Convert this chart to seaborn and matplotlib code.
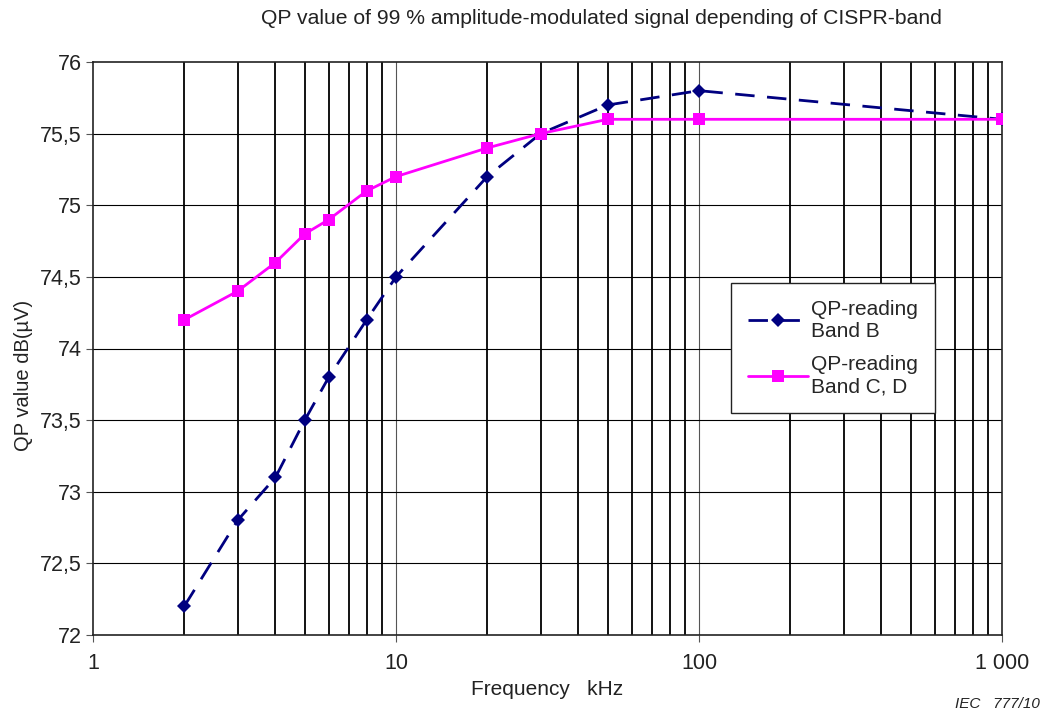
import matplotlib
matplotlib.use("Agg")
import matplotlib.pyplot as plt
import seaborn as sns
import pandas as pd
import numpy as np
from matplotlib.ticker import FixedLocator, FixedFormatter, NullFormatter

freq = [2, 3, 4, 5, 6, 8, 10, 20, 30, 50, 100, 1000]
band_b = [72.2, 72.8, 73.1, 73.5, 73.8, 74.2, 74.5, 75.2, 75.5, 75.7, 75.8, 75.6]
band_cd = [74.2, 74.4, 74.6, 74.8, 74.9, 75.1, 75.2, 75.4, 75.5, 75.6, 75.6, 75.6]
y_ticks = [72, 72.5, 73, 73.5, 74, 74.5, 75, 75.5, 76]
y_labels = ["72", "72,5", "73", "73,5", "74", "74,5", "75", "75,5", "76"]
x_ticks = [1, 10, 100, 1000]
x_labels = ["1", "10", "100", "1 000"]

sns.set_style("white")
plt.rcParams['font.family'] = ['Liberation Sans', 'DejaVu Sans']

df = pd.DataFrame({"freq": freq, "b": band_b, "cd": band_cd})

fig = plt.figure(figsize=(10.56, 7.13), dpi=100)
ax = fig.add_axes([93/1056, 1 - 635/713, (1002-93)/1056, (635-62)/713])

# grid lines
minor = [m * d for d in [1, 10, 100] for m in range(2, 10)]
for xv in minor:
    ax.axvline(xv, color="black", lw=1.3, zorder=1)
for xv in [10, 100]:
    ax.axvline(xv, color="#555555", lw=0.8, zorder=1)
for yv in y_ticks[1:-1]:
    ax.axhline(yv, color="black", lw=0.8, zorder=1)

sns.lineplot(data=df, x="freq", y="b", ax=ax, color="#000080", lw=2,
             marker="D", markersize=7, markeredgewidth=0, linestyle=(0, (7, 4.5)),
             label="QP-reading\nBand B", zorder=3)
sns.lineplot(data=df, x="freq", y="cd", ax=ax, color="#FF00FF", lw=2,
             marker="s", markersize=9, markeredgewidth=0,
             label="QP-reading\nBand C, D", zorder=4)

ax.set_xscale("log")
ax.set_xlim(1, 1000)
ax.set_ylim(72, 76)
ax.xaxis.set_major_locator(FixedLocator(x_ticks))
ax.xaxis.set_major_formatter(FixedFormatter(x_labels))
ax.xaxis.set_minor_formatter(NullFormatter())
ax.yaxis.set_major_locator(FixedLocator(y_ticks))
ax.yaxis.set_major_formatter(FixedFormatter(y_labels))
ax.tick_params(axis="both", labelsize=15.5, colors="#222222")
ax.tick_params(axis="y", which="major", length=5, width=0.8, color="#555555", left=True, pad=3)
ax.tick_params(axis="x", which="major", length=5, width=0.8, color="#555555", bottom=True, pad=8)
ax.tick_params(axis="x", which="minor", length=0)
for s in ax.spines.values():
    s.set_color("#222222")
    s.set_linewidth(1.2)

ax.set_xlabel("Frequency   kHz", fontsize=15, color="#222222")
ax.xaxis.set_label_coords(0.5, -(680 - 635) / 573)
ax.set_ylabel("QP value dB(µV)", fontsize=14.5, color="#222222")
ax.yaxis.set_label_coords(-(93 - 33) / 909, (635 - 375) / 573)
fig.text(601/1056, 1 - 18/713, "QP value of 99 % amplitude-modulated signal depending of CISPR-band",
         ha="center", va="center", fontsize=15.2, color="#222222")
fig.text(1040/1056, 1 - 704/713, "IEC   777/10", ha="right", va="center", fontsize=11,
         style="italic", color="#222222")

leg = ax.legend(loc="upper left", bbox_to_anchor=((731-93)/909, (635-283)/573),
                fontsize=15, frameon=True, fancybox=False, edgecolor="#222222",
                framealpha=1, handlelength=2.9, handletextpad=0.15, labelspacing=0.7,
                borderpad=0.8, borderaxespad=0)
leg.get_frame().set_linewidth(1.0)

fig.savefig("out.png", dpi=100)
